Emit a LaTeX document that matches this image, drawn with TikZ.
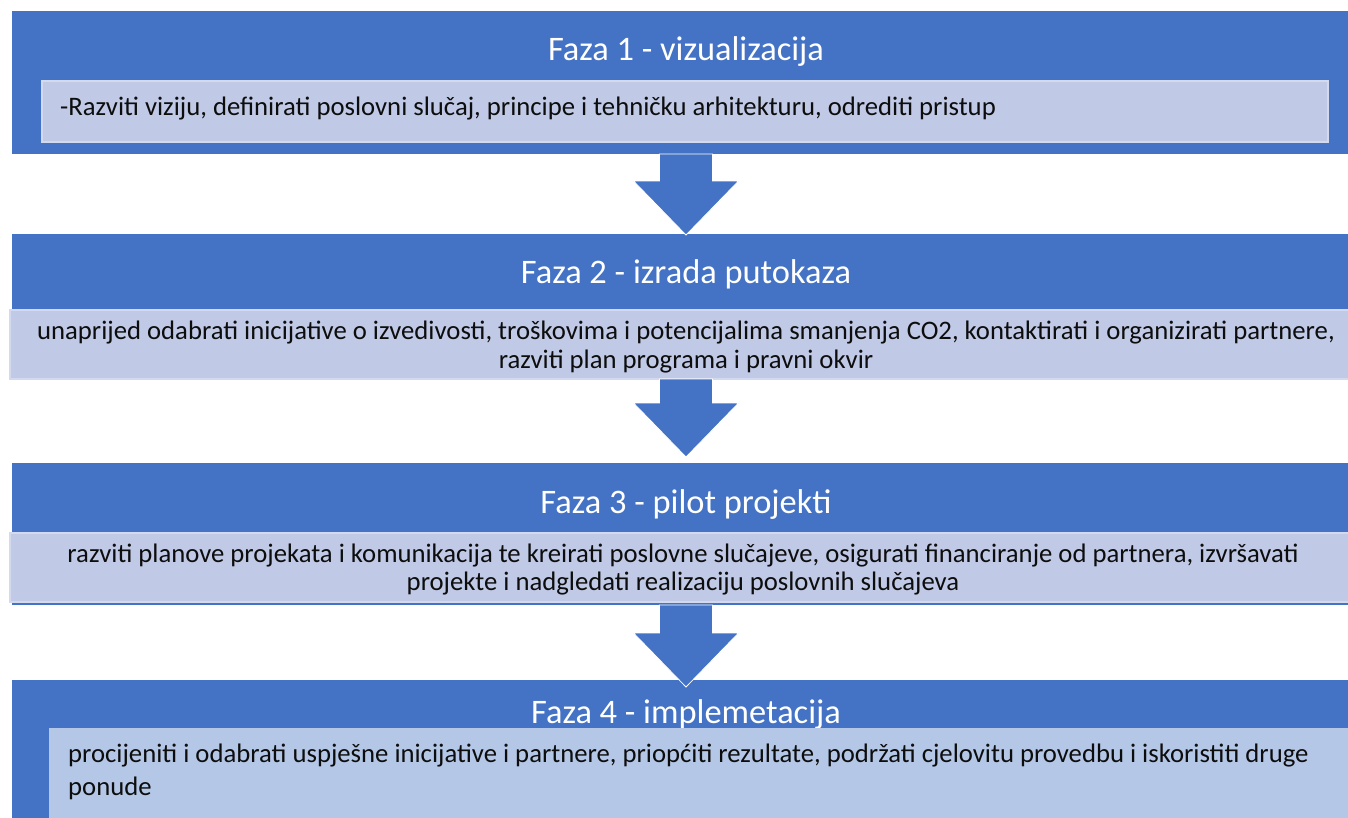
\documentclass[tikz,border=0pt]{standalone}
\usepackage{fontspec}
\setmainfont{Carlito}
\usetikzlibrary{calc}
\definecolor{phaseblue}{HTML}{4472C4}
\definecolor{innerfill}{HTML}{C0C9E6}
\definecolor{innerfillb}{HTML}{B4C7E7}
\definecolor{innerline}{HTML}{D3D9EE}
\tikzset{
  phasebox/.style={rectangle, fill=phaseblue, draw=none, minimum width=1348pt, inner sep=0pt, outer sep=0pt},
  innerbox/.style={rectangle, fill=innerfill, draw=innerline, line width=1.2pt, inner sep=0pt, outer sep=0pt},
  titletext/.style={text=white, font=\fontsize{34.4}{40}\selectfont, inner sep=0pt, anchor=base},
  bodytext/.style={text=black!95, font=\fontsize{26.7}{28.5}\selectfont, inner sep=0pt},
  barrow/.style={fill=phaseblue, draw=white, line width=0.8pt},
}
\newcommand\blockarrow[3]{%
  \path[barrow] let \p1=(#1), \p2=(#2) in
    (\x1-26.5pt,\y1) -- (\x1+26.5pt,\y1) -- (\x1+26.5pt,\y2-#3+54pt) --
    (\x1+52.5pt,\y2-#3+54pt) -- (\x1,\y2-#3) -- (\x1-52.5pt,\y2-#3+54pt) --
    (\x1-26.5pt,\y2-#3+54pt) -- cycle;}
\begin{document}
\begin{tikzpicture}[x=1pt,y=-1pt]
\clip (0,0) rectangle (1348,817);
\fill[white] (0,0) rectangle (1348,817);
% phase 1
\node[phasebox, minimum height=143pt] (p1) at (686,82.5) {};
\node[titletext] (t1) at (686,60) {Faza 1 - vizualizacija};
\node[innerbox, minimum width=1286pt, minimum height=61pt] (i1) at (685,111.5) {};
\node[bodytext, anchor=base west] (b1) at (60,115) {-Razviti viziju, definirati poslovni slučaj, principe i tehničku arhitekturu, odrediti pristup};
% phase 2
\node[phasebox, minimum height=142pt] (p2) at (686,305) {};
\node[titletext] (t2) at (686,283) {Faza 2 - izrada putokaza};
\node[innerbox, minimum width=1352pt, minimum height=69pt] (i2) at (686,344.5) {};
\node[bodytext, anchor=base, align=center, font=\fontsize{26.7}{29}\selectfont] (b2) at (686,368) {unaprijed odabrati inicijative o izvedivosti, troškovima i potencijalima smanjenja CO2, kontaktirati i organizirati partnere,\\razviti plan programa i pravni okvir};
% phase 3
\node[phasebox, minimum height=142pt] (p3) at (686,534) {};
\node[titletext] (t3) at (686,513) {Faza 3 - pilot projekti};
\node[innerbox, minimum width=1352pt, minimum height=69pt] (i3) at (686,567.5) {};
\node[bodytext, anchor=base, align=center, font=\fontsize{26.7}{28}\selectfont] (b3) at (683,590) {razviti planove projekata i komunikacija te kreirati poslovne slučajeve, osigurati financiranje od partnera, izvršavati\\projekte i nadgledati realizaciju poslovnih slučajeva};
% phase 4
\node[phasebox, minimum height=142pt] (p4) at (686,751) {};
\node[titletext] (t4) at (686,723) {Faza 4 - implemetacija};
\node[innerbox, fill=innerfillb, draw=none, minimum width=1311pt, minimum height=100pt] (i4) at (704.5,778) {};
\node[bodytext, anchor=base west, align=left, font=\fontsize{26.7}{33}\selectfont] (b4) at (68,795) {procijeniti i odabrati uspješne inicijative i partnere, priopćiti rezultate, podržati cjelovitu provedbu i iskoristiti druge\\ponude};
% arrows
\blockarrow{p1.south}{p2.north}{1pt}
\blockarrow{i2.south}{p3.north}{-6pt}
\blockarrow{p3.south}{p4.north}{7pt}
\end{tikzpicture}
\end{document}
